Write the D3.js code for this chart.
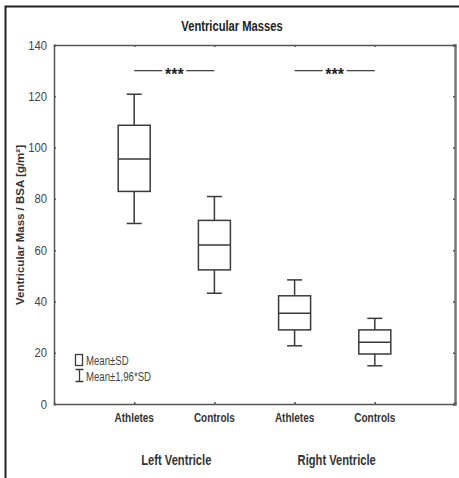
<!DOCTYPE html>
<html><head><meta charset="utf-8">
<script src="https://cdn.jsdelivr.net/npm/d3@7"></script>
<style>
body{margin:0;background:#fff;}
text{font-family:"Liberation Sans",Arial,sans-serif;}
</style></head>
<body><svg id="c" width="459" height="478"></svg>
<script>
const categories = ["Athletes","Controls","Athletes","Controls"];
const groups = ["Left Ventricle","Right Ventricle"];
const whiskerLow  = [70.4, 43.2, 22.7, 14.9];
const boxLow      = [82.9, 52.3, 28.9, 19.5];
const means       = [95.5, 62.0, 35.4, 24.1];
const boxHigh     = [108.7, 71.6, 42.2, 28.9];
const whiskerHigh = [120.8, 80.9, 48.4, 33.4];
const yTicks = [0,20,40,60,80,100,120,140];
const sigLevel = 130;
const sigLabels = ["***","***"];

const svg = d3.select("#c");
const L=54,R=455,T=45,B=404;
const x = d3.scaleLinear().domain([0,5]).range([L,R]);
const y = d3.scaleLinear().domain([0,140]).range([B,T]);
const ink="#3a3a3a";

function ntext(g, tx, ty, s, str, anchor){
  return g.append("text").attr("transform",`translate(${tx},${ty}) scale(${s},1)`)
    .attr("text-anchor",anchor||"start").text(str);
}

// outer frame
svg.append("path").attr("d","M5.5,478 V6.5 H459").attr("fill","none").attr("stroke","#222").attr("stroke-width",2);

ntext(svg,232,31,0.8,"Ventricular Masses","middle")
  .attr("font-size",14).attr("font-weight","bold").attr("fill","#222");

// axes
const yl = svg.append("g").attr("transform",`translate(${L},0)`)
  .call(d3.axisLeft(y).tickValues(yTicks).tickSize(-2).tickPadding(7).tickFormat(d3.format("d")));
const yr = svg.append("g").attr("transform",`translate(${R},0)`)
  .call(d3.axisRight(y).tickValues(yTicks).tickSize(-2).tickFormat(""));
const xb = svg.append("g").attr("transform",`translate(0,${B})`)
  .call(d3.axisBottom(x).tickValues([1,2,3,4]).tickSize(-2).tickPadding(9).tickFormat(""));
const xt = svg.append("g").attr("transform",`translate(0,${T})`)
  .call(d3.axisTop(x).tickValues([1,2,3,4]).tickSize(-2).tickFormat(""));
[yl,yr,xb,xt].forEach(g=>{
  g.select(".domain").attr("stroke","#555").attr("stroke-width",1.5);
  g.selectAll(".tick line").attr("stroke","#555").attr("stroke-width",1.5);
});
yr.select(".domain").attr("stroke","#777").attr("stroke-width",2.5);
yl.selectAll(".tick text").attr("font-size",12.5).attr("fill","#444")
  .attr("transform","scale(0.9,1)").attr("x",-7/0.9);

// x category labels
categories.forEach((c,i)=>{
  ntext(svg,x(i+1),422,0.8,c,"middle").attr("font-size",12.5).attr("font-weight","bold").attr("fill","#333");
});

// y label
svg.append("text").attr("transform","translate(24,225) rotate(-90)").attr("text-anchor","middle")
  .attr("font-size",11.5).attr("font-weight","bold").attr("fill","#333")
  .text("Ventricular Mass / BSA [g/m²]");

// group labels
groups.forEach((g,i)=>{
  ntext(svg,x(1.5+2*i)+2,465,0.77,g,"middle").attr("font-size",14.5).attr("font-weight","bold").attr("fill","#333");
});

// boxes
const bw=32, cw=15;
const gb = svg.append("g").attr("fill","none").attr("stroke",ink).attr("stroke-width",1.5);
categories.forEach((c,i)=>{
  const cx=x(i+1);
  gb.append("line").attr("x1",cx).attr("x2",cx).attr("y1",y(whiskerHigh[i])).attr("y2",y(boxHigh[i]));
  gb.append("line").attr("x1",cx).attr("x2",cx).attr("y1",y(boxLow[i])).attr("y2",y(whiskerLow[i]));
  gb.append("line").attr("x1",cx-cw/2).attr("x2",cx+cw/2).attr("y1",y(whiskerHigh[i])).attr("y2",y(whiskerHigh[i]));
  gb.append("line").attr("x1",cx-cw/2).attr("x2",cx+cw/2).attr("y1",y(whiskerLow[i])).attr("y2",y(whiskerLow[i]));
  gb.append("rect").attr("x",cx-bw/2).attr("width",bw).attr("y",y(boxHigh[i])).attr("height",y(boxLow[i])-y(boxHigh[i])).attr("fill","#fff");
  gb.append("line").attr("x1",cx-bw/2).attr("x2",cx+bw/2).attr("y1",y(means[i])).attr("y2",y(means[i]));
});

// significance
sigLabels.forEach((s,i)=>{
  const a=x(1+2*i), b=x(2+2*i), m=(a+b)/2, yy=y(sigLevel);
  svg.append("line").attr("x1",a).attr("x2",m-12).attr("y1",yy).attr("y2",yy).attr("stroke","#444").attr("stroke-width",1.3);
  svg.append("line").attr("x1",m+12).attr("x2",b).attr("y1",yy).attr("y2",yy).attr("stroke","#444").attr("stroke-width",1.3);
  svg.append("text").attr("x",m).attr("y",yy+9).attr("text-anchor","middle").attr("font-size",16).attr("font-weight","bold").attr("fill","#222").text(s);
});

// legend
const lg = svg.append("g");
lg.append("rect").attr("x",75.5).attr("y",354.5).attr("width",7).attr("height",11).attr("fill","none").attr("stroke",ink).attr("stroke-width",1.3);
lg.append("path").attr("d","M75.5,369.5 H83.5 M79.5,369.5 V381.5 M75.5,381.5 H83.5").attr("fill","none").attr("stroke",ink).attr("stroke-width",1.3);
ntext(lg,86,365,0.8,"Mean±SD").attr("font-size",12).attr("fill","#444");
ntext(lg,86,381,0.8,"Mean±1,96*SD").attr("font-size",12).attr("fill","#444");
</script></body></html>
